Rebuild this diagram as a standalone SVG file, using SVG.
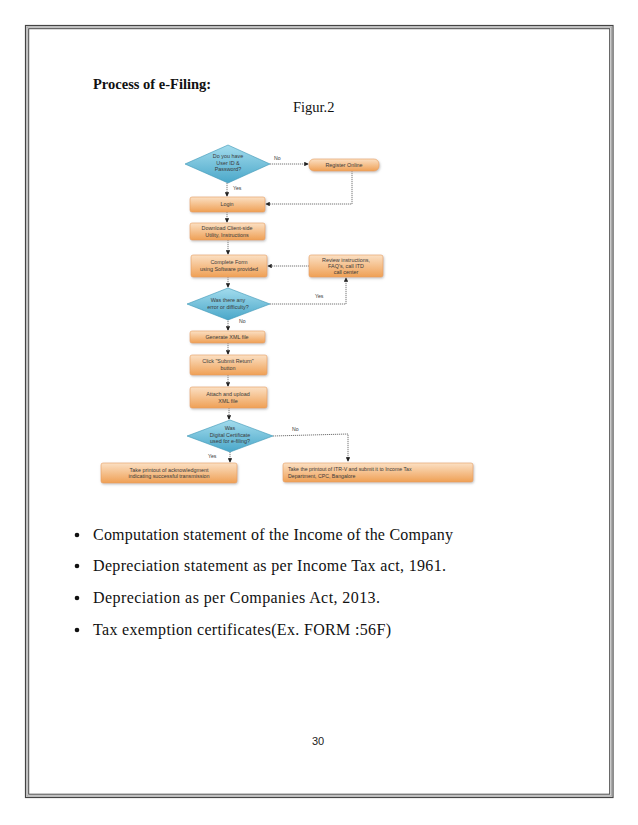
<svg xmlns="http://www.w3.org/2000/svg" width="638" height="825" viewBox="0 0 638 825">
<defs>
<linearGradient id="og" x1="0" y1="0" x2="0" y2="1">
<stop offset="0" stop-color="#fbe0c4"/>
<stop offset="1" stop-color="#efa055"/>
</linearGradient>
<linearGradient id="bg" x1="0" y1="0" x2="0" y2="1">
<stop offset="0" stop-color="#a3dced"/>
<stop offset="1" stop-color="#4aa7c9"/>
</linearGradient>
<marker id="ah" viewBox="0 0 6 6" refX="5" refY="3" markerWidth="5" markerHeight="5" orient="auto">
<path d="M0,0 L6,3 L0,6 z" fill="#222"/>
</marker>
<filter id="sh" x="-10%" y="-20%" width="120%" height="150%">
<feDropShadow dx="0.8" dy="1.2" stdDeviation="0.8" flood-color="#999" flood-opacity="0.6"/>
</filter>
</defs>
<style>
.box{fill:url(#og);stroke:#e8a060;stroke-width:0.6;filter:url(#sh)}
.dia{fill:url(#bg);stroke:#3b95b5;stroke-width:0.6}
.ft{font-family:"Liberation Sans",Arial,sans-serif;font-size:5.4px;fill:#3a3a3a;text-anchor:middle}
.fl{font-family:"Liberation Sans",Arial,sans-serif;font-size:5.2px;fill:#3a3a3a}
.con{fill:none;stroke:#666;stroke-width:0.9;stroke-dasharray:1.2 0.8}
.arr{fill:none;stroke:#333;stroke-width:0.9;marker-end:url(#ah)}
.body{font-family:"Liberation Serif","Times New Roman",serif;font-size:16px;fill:#111}
</style>
<rect x="0" y="0" width="638" height="825" fill="#fff"/>
<rect id="border-outer" x="25.5" y="25.5" width="587.5" height="772" fill="none" stroke="#444" stroke-width="1.2"/>
<rect id="border-mid" x="27" y="27" width="584.5" height="769" fill="none" stroke="#aaa" stroke-width="1.4"/>
<rect id="border-inner" x="28.7" y="28.7" width="581" height="765.5" fill="none" stroke="#444" stroke-width="1"/>

<text x="93" y="89" font-family="'Liberation Serif','Times New Roman',serif" font-weight="bold" font-size="14.5" fill="#111">Process of e-Filing:</text>
<text x="293" y="112" font-family="'Liberation Serif','Times New Roman',serif" font-size="14.5" fill="#111">Figur.2</text>

<g id="connectors">
<path class="con" d="M270,164 L307,164"/>
<path class="arr" d="M305,164 L308,164"/>
<path class="con" d="M352,171 L352,204 L268,204"/>
<path class="arr" d="M270,204 L266,204"/>
<path class="con" d="M227,183 L227,195"/>
<path class="arr" d="M227,192 L227,196"/>
<path class="con" d="M227,212 L227,222"/>
<path class="arr" d="M227,219 L227,222"/>
<path class="con" d="M228,240 L228,254"/>
<path class="arr" d="M228,251 L228,254"/>
<path class="con" d="M309,266 L269,266"/>
<path class="arr" d="M271,266 L268,266"/>
<path class="con" d="M228,277 L228,287"/>
<path class="arr" d="M228,284 L228,287"/>
<path class="con" d="M270,304 L346,304 L346,279"/>
<path class="arr" d="M346,281 L346,278"/>
<path class="con" d="M228,319 L228,330"/>
<path class="arr" d="M228,327 L228,330"/>
<path class="con" d="M228,343 L228,354"/>
<path class="arr" d="M228,351 L228,354"/>
<path class="con" d="M228,375 L228,386"/>
<path class="arr" d="M228,383 L228,386"/>
<path class="con" d="M229,408 L229,419"/>
<path class="arr" d="M229,416 L229,419"/>
<path class="con" d="M230,452 L230,461"/>
<path class="arr" d="M230,458 L230,462"/>
<path class="con" d="M273,436 L348,434 L348,460"/>
<path class="arr" d="M348,457 L348,461"/>
<text class="fl" x="274" y="160">No</text>
<text class="fl" x="233" y="190">Yes</text>
<text class="fl" x="315" y="298">Yes</text>
<text class="fl" x="239" y="323">No</text>
<text class="fl" x="208" y="458">Yes</text>
<text class="fl" x="292" y="431">No</text>
</g>

<g id="d1">
<polygon class="dia" points="228,145 270,164 228,183 185,164"/>
<text class="ft" x="228" y="158">Do you have</text>
<text class="ft" x="228" y="164.5">User ID &amp;</text>
<text class="ft" x="228" y="171">Password?</text>
</g>
<g id="register">
<rect class="box" x="309" y="159" width="70" height="12" rx="5"/>
<text class="ft" x="344" y="167">Register Online</text>
</g>
<g id="login">
<rect class="box" x="190" y="197" width="75" height="15" rx="2"/>
<text class="ft" x="227" y="206">Login</text>
</g>
<g id="download">
<rect class="box" x="190" y="223" width="75" height="17" rx="2"/>
<text class="ft" x="227" y="230">Download Client-side</text>
<text class="ft" x="227" y="236.5">Utility, Instructions</text>
</g>
<g id="complete">
<rect class="box" x="191" y="255" width="76" height="22" rx="2"/>
<text class="ft" x="229" y="264">Complete Form</text>
<text class="ft" x="229" y="270.5">using Software provided</text>
</g>
<g id="review">
<rect class="box" x="309" y="255" width="74" height="22" rx="2"/>
<text class="ft" x="346" y="262">Review instructions,</text>
<text class="ft" x="346" y="268">FAQ's, call ITD</text>
<text class="ft" x="346" y="274">call center</text>
</g>
<g id="d2">
<polygon class="dia" points="228,288 270,304 228,320 187,304"/>
<text class="ft" x="228" y="302">Was there any</text>
<text class="ft" x="228" y="308.5">error or difficulty?</text>
</g>
<g id="generate">
<rect class="box" x="190" y="331" width="75" height="12" rx="2"/>
<text class="ft" x="227" y="339">Generate XML file</text>
</g>
<g id="click">
<rect class="box" x="190" y="355" width="77" height="20" rx="2"/>
<text class="ft" x="228" y="363">Click "Submit Return"</text>
<text class="ft" x="228" y="369.5">button</text>
</g>
<g id="attach">
<rect class="box" x="190" y="387" width="77" height="21" rx="2"/>
<text class="ft" x="228" y="396">Attach and upload</text>
<text class="ft" x="228" y="402.5">XML file</text>
</g>
<g id="d3">
<polygon class="dia" points="230,420 273,436 230,452 187,436"/>
<text class="ft" x="230" y="430">Was</text>
<text class="ft" x="230" y="436.5">Digital Certificate</text>
<text class="ft" x="230" y="443">used for e-filing?</text>
</g>
<g id="printout-ack">
<rect class="box" x="101" y="463" width="136" height="20" rx="2"/>
<text class="ft" x="169" y="471.5">Take printout of acknowledgment</text>
<text class="ft" x="169" y="478">indicating successful transmission</text>
</g>
<g id="printout-itr">
<rect class="box" x="283" y="463" width="190" height="19" rx="2"/>
<text class="fl" x="288" y="471">Take the printout of ITR-V and submit it to Income Tax</text>
<text class="fl" x="288" y="477.5">Department, CPC, Bangalore</text>
</g>

<g id="bullets">
<circle cx="77" cy="535" r="2.3" fill="#111"/>
<circle cx="77" cy="566" r="2.3" fill="#111"/>
<circle cx="77" cy="598" r="2.3" fill="#111"/>
<circle cx="77" cy="630" r="2.3" fill="#111"/>
<text class="body" x="93" y="540" textLength="360" lengthAdjust="spacing">Computation statement of the Income of the Company</text>
<text class="body" x="93" y="571" textLength="353" lengthAdjust="spacing">Depreciation statement as per Income Tax act, 1961.</text>
<text class="body" x="93" y="603" textLength="287" lengthAdjust="spacing">Depreciation as per Companies Act, 2013.</text>
<text class="body" x="93" y="635" textLength="298" lengthAdjust="spacing">Tax exemption certificates(Ex. FORM :56F)</text>
</g>
<text x="318" y="745" font-family="'Liberation Sans',Carlito,sans-serif" font-size="11" fill="#222" text-anchor="middle">30</text>
</svg>
